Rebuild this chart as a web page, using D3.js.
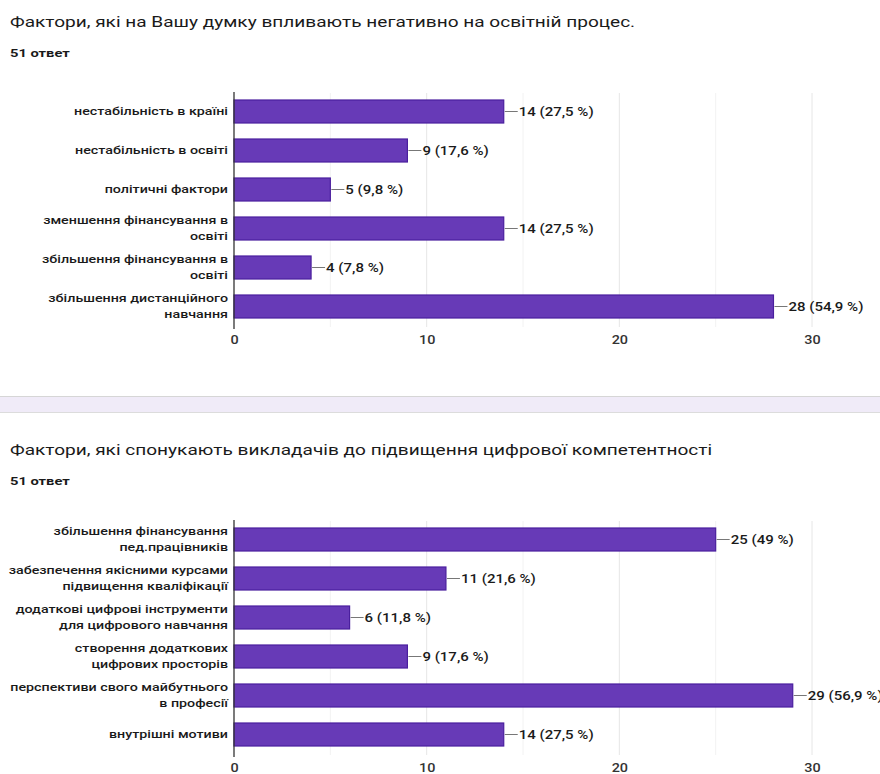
<!DOCTYPE html>
<html>
<head>
<meta charset="utf-8">
<script src="https://cdn.jsdelivr.net/npm/d3@7"></script>
<style>
  body { margin: 0; background: #fff; }
  svg { display: block; font-family: Roboto, "Noto Sans", sans-serif; }
</style>
</head>
<body>
<div id="chart"></div>
<script>
// chart 1
var title1 = "Фактори, які на Вашу думку впливають негативно на освітній процес.";
var categories1 = [
  "нестабільність в країні",
  "нестабільність в освіті",
  "політичні фактори",
  "зменшення фінансування в\nосвіті",
  "збільшення фінансування в\nосвіті",
  "збільшення дистанційного\nнавчання"
];
var values1 = [14, 9, 5, 14, 4, 28];
var percents1 = ["27,5", "17,6", "9,8", "27,5", "7,8", "54,9"];

// chart 2
var title2 = "Фактори, які спонукають викладачів до підвищення цифрової компетентності";
var categories2 = [
  "збільшення фінансування\nпед.працівників",
  "забезпечення якісними курсами\nпідвищення кваліфікації",
  "додаткові цифрові інструменти\nдля цифрового навчання",
  "створення додаткових\nцифрових просторів",
  "перспективи свого майбутнього\nв професії",
  "внутрішні мотиви"
];
var values2 = [25, 11, 6, 9, 29, 14];
var percents2 = ["49", "21,6", "11,8", "17,6", "56,9", "27,5"];

var responses = "51 ответ";
var xTicks = [0, 10, 20, 30];
var gridTicks = [5, 10, 15, 20, 25, 30];

var w = 880, h = 774;
var svg = d3.select("#chart").append("svg")
    .attr("width", w)
    .attr("height", h);

var barColour = "#673ab7";
var barStroke = "#4a1f9e";
var textColour = "#1a1a1a";

var x = d3.scaleLinear().domain([0, 30]).range([234, 812]);

// the screenshot is stretched sideways, so widen the text to match
function stretch(sel, f) {
  sel.each(function() {
    var len = this.getComputedTextLength();
    d3.select(this)
      .attr("textLength", len * f)
      .attr("lengthAdjust", "spacingAndGlyphs");
  });
}

function drawChart(top, title, categories, values, percents) {
  var g = svg.append("g");

  g.append("text")
    .attr("x", 10)
    .attr("y", top + 27)
    .attr("font-size", "15px")
    .attr("fill", textColour)
    .text(title)
    .call(stretch, 1.27);

  g.append("text")
    .attr("x", 10)
    .attr("y", top + 57)
    .attr("font-size", "10.5px")
    .attr("font-weight", "bold")
    .attr("fill", textColour)
    .text(responses)
    .call(stretch, 1.4);

  var y0 = top + 92, y1 = top + 326;
  var y = d3.scaleBand()
      .domain(categories)
      .range([y0, y1])
      .paddingInner(0.41)
      .paddingOuter(0.205);

  // grid
  g.append("g")
    .selectAll("line")
    .data(gridTicks)
    .enter()
    .append("line")
    .attr("x1", function(d) { return x(d); })
    .attr("x2", function(d) { return x(d); })
    .attr("y1", y0 + 1)
    .attr("y2", y1 + 1)
    .attr("stroke", function(d) { return d % 10 == 0 ? "#e6e6e6" : "#f2f2f2"; })
    .attr("stroke-width", 1);

  // bars
  g.append("g")
    .selectAll("rect")
    .data(values)
    .enter()
    .append("rect")
    .attr("x", x(0))
    .attr("y", function(d, i) { return y(categories[i]); })
    .attr("width", function(d) { return x(d) - x(0); })
    .attr("height", y.bandwidth())
    .attr("fill", barColour)
    .attr("stroke", barStroke)
    .attr("stroke-width", 1.2);

  // value labels
  var lab = g.append("g")
    .selectAll("g")
    .data(values)
    .enter()
    .append("g")
    .attr("transform", function(d, i) {
      return "translate(" + x(d) + "," + (y(categories[i]) + y.bandwidth() / 2) + ")";
    });
  lab.append("line")
    .attr("x1", 1)
    .attr("x2", 14)
    .attr("stroke", "#777")
    .attr("stroke-width", 1);
  lab.append("text")
    .attr("x", 15)
    .attr("dy", "0.35em")
    .attr("font-size", "12px")
    .attr("font-weight", 500)
    .attr("fill", textColour)
    .text(function(d, i) { return d + " (" + percents[i] + " %)"; })
    .call(stretch, 1.25);

  // x axis labels
  var xAxis = d3.axisBottom(x)
      .tickValues(xTicks)
      .tickSize(0)
      .tickPadding(9);
  var xa = g.append("g")
    .attr("transform", "translate(0," + y1 + ")")
    .call(xAxis);
  xa.select(".domain").remove();
  xa.selectAll("text")
    .attr("font-size", "12px")
    .attr("font-weight", 500)
    .attr("font-family", "Roboto")
    .attr("fill", "#333")
    .call(stretch, 1.2);

  // y axis
  var yAxis = d3.axisLeft(y)
      .tickSize(0)
      .tickPadding(6);
  var ya = g.append("g")
    .attr("transform", "translate(" + x(0) + ",0)")
    .call(yAxis);
  ya.select(".domain")
    .attr("d", "M0," + y0 + "V" + (y1 + 3))
    .attr("stroke", "#333")
    .attr("stroke-width", 1.3);
  ya.selectAll(".tick text")
    .attr("font-size", "11.5px")
    .attr("font-weight", 500)
    .attr("font-family", "Roboto")
    .attr("fill", textColour)
    .each(function(d) {
      var t = d3.select(this);
      var lines = d.split("\n");
      t.text(null);
      lines.forEach(function(line, k) {
        t.append("tspan")
          .attr("x", -6)
          .attr("dy", k == 0 ? (0.32 - (lines.length - 1) * 0.7) + "em" : "1.4em")
          .text(line);
      });
    })
    .attr("dy", null);
  ya.selectAll(".tick tspan").call(stretch, 1.24);
}

drawChart(0, title1, categories1, values1, percents1);

// separator band between cards
svg.append("rect")
  .attr("x", 0)
  .attr("y", 397)
  .attr("width", w)
  .attr("height", 15)
  .attr("fill", "#f0ebf8");
svg.append("line")
  .attr("x1", 0).attr("x2", w)
  .attr("y1", 396.5).attr("y2", 396.5)
  .attr("stroke", "#d6d6d6");
svg.append("line")
  .attr("x1", 0).attr("x2", w)
  .attr("y1", 412.5).attr("y2", 412.5)
  .attr("stroke", "#dcdcdc");

drawChart(428, title2, categories2, values2, percents2);
</script>
</body>
</html>
